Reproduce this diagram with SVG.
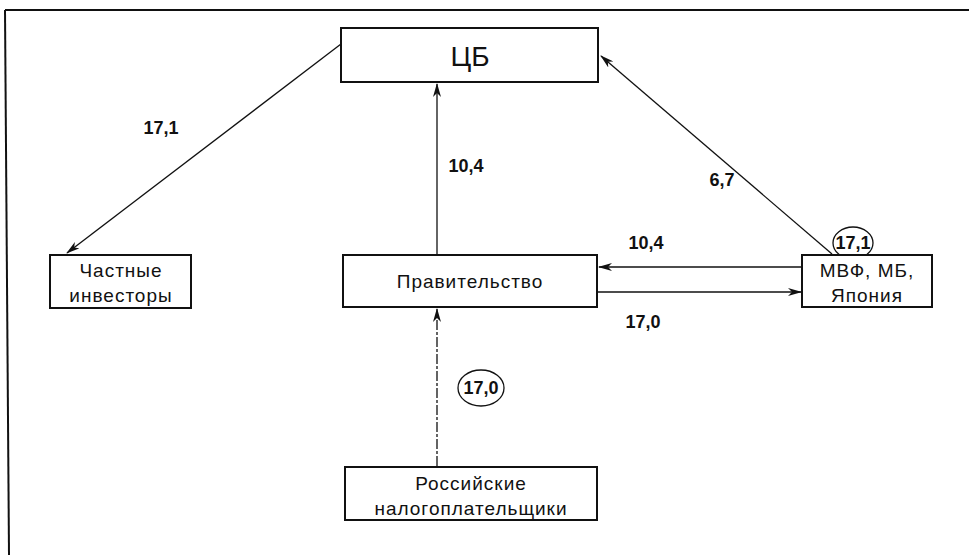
<svg xmlns="http://www.w3.org/2000/svg" width="969" height="555" viewBox="0 0 969 555">
<defs>
<marker id="arr" viewBox="0 0 14 8" refX="13" refY="4" markerWidth="14" markerHeight="8" markerUnits="userSpaceOnUse" orient="auto">
<path d="M0,0 L14,4 L0,8 L4,4 Z" fill="#111"/>
</marker>
</defs>
<style>
.box{fill:#fff;stroke:#111;stroke-width:2}
.t{font-family:"Liberation Sans",Arial,sans-serif;font-size:19px;letter-spacing:1px;fill:#111;text-anchor:middle}
.big{font-size:28px;letter-spacing:0}
.lbl{font-family:"Liberation Sans",Arial,sans-serif;font-size:18px;font-weight:bold;fill:#111;text-anchor:middle}
.c{fill:none;stroke:#111;stroke-width:1.3}
.ov{fill:#fff;stroke:#111;stroke-width:1.3}
</style>
<rect x="0" y="0" width="969" height="555" fill="#fff"/>
<g id="frame">
<line x1="5" y1="10" x2="969" y2="10" stroke="#111" stroke-width="2"/>
<line x1="5" y1="10" x2="9" y2="555" stroke="#111" stroke-width="2"/>
</g>
<g id="connectors">
<line class="c" x1="341" y1="44" x2="67" y2="253" marker-end="url(#arr)"/>
<line class="c" x1="437" y1="254" x2="437" y2="84" marker-end="url(#arr)"/>
<line class="c" x1="832" y1="254" x2="601" y2="56" marker-end="url(#arr)"/>
<line class="c" x1="802" y1="267" x2="599" y2="267" marker-end="url(#arr)"/>
<line class="c" x1="597" y1="292" x2="801" y2="292" marker-end="url(#arr)"/>
<line class="c" x1="437" y1="466" x2="437" y2="309" stroke-dasharray="10,2,3,2" marker-end="url(#arr)"/>
<text class="lbl" x="161" y="134">17,1</text>
<text class="lbl" x="466" y="172">10,4</text>
<text class="lbl" x="722" y="186">6,7</text>
<text class="lbl" x="646" y="249">10,4</text>
<text class="lbl" x="643" y="328">17,0</text>
<ellipse class="ov" cx="853" cy="243" rx="20" ry="16"/>
<text class="lbl" x="853" y="249">17,1</text>
<ellipse class="ov" cx="481" cy="388" rx="23" ry="18"/>
<text class="lbl" x="481" y="394">17,0</text>
</g>
<g id="cb">
<rect class="box" x="341" y="28" width="257" height="54"/>
<text class="t big" x="470" y="66">ЦБ</text>
</g>
<g id="investors">
<rect class="box" x="50" y="255" width="141" height="53"/>
<text class="t" x="121" y="277">Частные</text>
<text class="t" x="121" y="302">инвесторы</text>
</g>
<g id="government">
<rect class="box" x="343" y="255" width="254" height="52"/>
<text class="t" x="470" y="288">Правительство</text>
</g>
<g id="imf">
<rect class="box" x="802" y="255" width="130" height="52"/>
<text class="t" x="867" y="277">МВФ, МБ,</text>
<text class="t" x="867" y="302">Япония</text>
</g>
<g id="taxpayers">
<rect class="box" x="345" y="467" width="252" height="53"/>
<text class="t" x="471" y="490">Российские</text>
<text class="t" x="471" y="515">налогоплательщики</text>
</g>
</svg>
